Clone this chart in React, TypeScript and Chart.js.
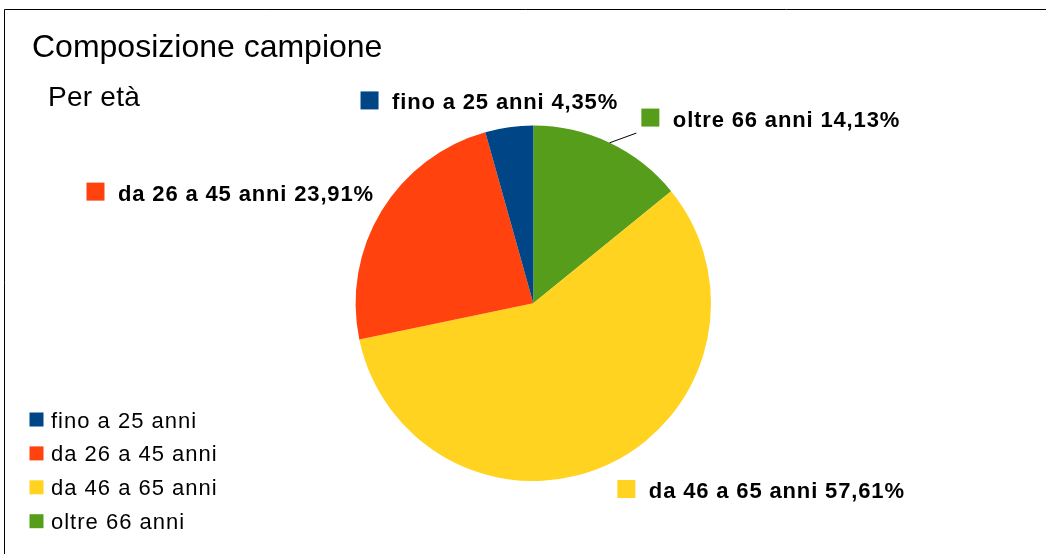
import React, { useEffect, useRef } from 'react';
import { Chart, registerables } from 'chart.js';

Chart.register(...registerables);

// ---- data ----
const categories = ['fino a 25 anni', 'da 26 a 45 anni', 'da 46 a 65 anni', 'oltre 66 anni'];
const values = [4.35, 23.91, 57.61, 14.13];
const colors = ['#004586', '#ff420e', '#ffd320', '#579d1c'];
const titleText = 'Composizione campione';
const subtitleText = 'Per età';

const FONT = "'Liberation Sans', Arial, sans-serif";

function spacedWidth(ctx: CanvasRenderingContext2D, text: string, sp: number) {
  let w = 0;
  const chars = Array.from(text);
  chars.forEach((ch, i) => {
    w += ctx.measureText(ch).width + (i < chars.length - 1 ? sp : 0);
  });
  return w;
}

function drawSpaced(ctx: CanvasRenderingContext2D, text: string, x: number, y: number, sp: number) {
  let cx = x;
  for (const ch of Array.from(text)) {
    ctx.fillText(ch, cx, y);
    cx += ctx.measureText(ch).width + sp;
  }
}

const fmtPct = (v: number) => v.toFixed(2).replace('.', ',') + '%';

const overlayPlugin = {
  id: 'overlay',
  beforeDraw(chart: any) {
    const ctx: CanvasRenderingContext2D = chart.ctx;
    ctx.save();
    ctx.fillStyle = '#ffffff';
    ctx.fillRect(0, 0, chart.width, chart.height);
    ctx.strokeStyle = '#000000';
    ctx.lineWidth = 1;
    ctx.beginPath();
    ctx.moveTo(4.5, chart.height + 5);
    ctx.lineTo(4.5, 9.5);
    ctx.lineTo(chart.width + 5, 9.5);
    ctx.stroke();
    ctx.restore();
  },
  afterDatasetsDraw(chart: any, _args: any, opts: any) {
    const ctx: CanvasRenderingContext2D = chart.ctx;
    ctx.save();
    ctx.fillStyle = '#000000';
    ctx.textBaseline = 'alphabetic';
    ctx.textAlign = 'left';

    // title + subtitle
    ctx.font = `32px ${FONT}`;
    drawSpaced(ctx, titleText, 32, 57, 0);
    ctx.font = `28px ${FONT}`;
    drawSpaced(ctx, subtitleText, 48, 106, 0.25);

    // legend
    ctx.font = `22px ${FONT}`;
    categories.forEach((c, i) => {
      const base = 427.5 + i * 33.9;
      ctx.fillStyle = colors[i];
      ctx.fillRect(29.5, base - 15, 14, 14);
      ctx.fillStyle = '#000000';
      drawSpaced(ctx, c, 51, base, 1);
    });

    // data labels
    const meta = chart.getDatasetMeta(0);
    const n = meta.data.length;
    ctx.font = `bold 22px ${FONT}`;
    const sq = 18;
    const gap = 13.5;
    const sp = 0.85;
    meta.data.forEach((arc: any, i: number) => {
      const idx = n - 1 - i;
      const { x: cx, y: cy, startAngle, endAngle, outerRadius } = arc.getProps(
        ['x', 'y', 'startAngle', 'endAngle', 'outerRadius'],
        true
      );
      const mid = (startAngle + endAngle) / 2;
      const dx = Math.cos(mid);
      const dy = Math.sin(mid);
      const ar = outerRadius + 18;
      const ax = cx + ar * dx;
      const ay = cy + ar * dy;
      let deg = ((-mid * 180) / Math.PI) % 360;
      if (deg < 0) deg += 360;
      const text = `${categories[idx]} ${fmtPct(values[idx])}`;
      const tw = spacedWidth(ctx, text, sp);
      const bw = sq + gap + tw;
      const bh = sq;
      let left = 0;
      let top = 0;
      if (deg <= 22.5 || deg >= 337.5) { left = ax; top = ay - bh / 2; }
      else if (deg < 67.5) { left = ax; top = ay - bh; }
      else if (deg < 112.5) { left = ax - tw / 2 - sq - gap; top = ay - bh; }
      else if (deg <= 157.5) { left = ax - bw; top = ay - bh; }
      else if (deg <= 202.5) { left = ax - bw; top = ay - bh / 2; }
      else if (deg < 247.5) { left = ax - bw; top = ay; }
      else if (deg < 292.5) { left = ax - tw / 2 - sq - gap; top = ay; }
      else { left = ax; top = ay; }
      const shift = (opts.shifts && opts.shifts[idx]) || [0, 0];
      left += shift[0];
      top += shift[1];
      if (opts.leaders && opts.leaders[idx]) {
        ctx.strokeStyle = '#000000';
        ctx.lineWidth = 1;
        ctx.beginPath();
        ctx.moveTo(cx + outerRadius * dx, cy + outerRadius * dy);
        ctx.lineTo(left - 5, top + bh + 6.5);
        ctx.stroke();
      }
      ctx.fillStyle = colors[idx];
      ctx.fillRect(left, top, sq, sq);
      ctx.fillStyle = '#000000';
      drawSpaced(ctx, text, left + sq + gap, top + sq, sp);
    });
    ctx.restore();
  },
};

export default function App() {
  const ref = useRef<HTMLCanvasElement | null>(null);
  useEffect(() => {
    if (!ref.current) return;
    const chart = new Chart(ref.current, {
      type: 'pie',
      data: {
        labels: [...categories].reverse(),
        datasets: [
          {
            data: [...values].reverse(),
            backgroundColor: [...colors].reverse(),
            borderWidth: 0,
          },
        ],
      },
      options: {
        responsive: false,
        animation: false,
        events: [],
        layout: { padding: { left: 355.6, right: 335, top: 125.6, bottom: 73 } },
        plugins: {
          legend: { display: false },
          title: { display: false },
          tooltip: { enabled: false },
          overlay: {
            shifts: [[-2, 0], [7, -1], [0, 0], [24, 0]],
            leaders: [false, false, false, true],
          },
        } as any,
      },
      plugins: [overlayPlugin],
    });
    return () => chart.destroy();
  }, []);
  return (
    <div style={{ position: 'fixed', left: 0, top: 0, width: 1046, height: 554, background: '#fff' }}>
      <canvas ref={ref} width={1046} height={554} style={{ display: 'block' }} />
    </div>
  );
}
